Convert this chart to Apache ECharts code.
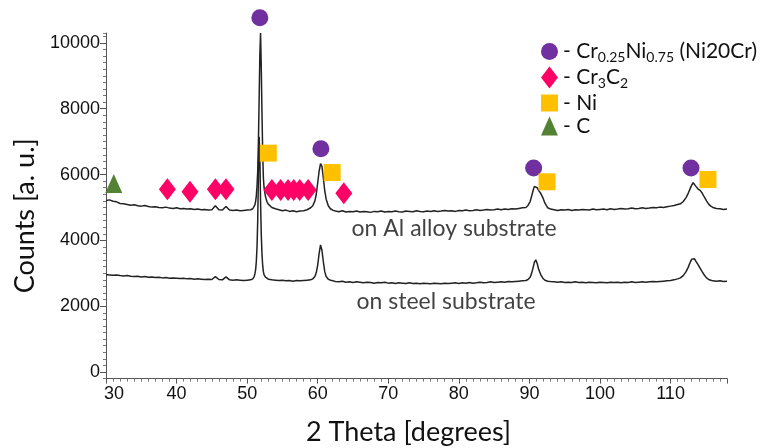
<!DOCTYPE html>
<html>
<head>
<meta charset="utf-8">
<script src="https://cdn.jsdelivr.net/npm/echarts@6/dist/echarts.min.js"></script>
<style>
  html, body { margin: 0; padding: 0; background: #ffffff; }
  #chart { width: 760px; height: 448px; }
</style>
</head>
<body>
<div id="chart"></div>
<script>
// XRD scan of the coating deposited on the Al alloy substrate: [2θ, counts]
const alAlloyScan = [
  [30,5210],[30.5,5230],[31,5190],[31.5,5170],[32,5120],[32.5,5110],[33,5090],[33.5,5070],
  [34,5080],[34.5,5050],[35,5040],[35.5,5060],[36,5030],[36.5,5010],[37,5020],[37.5,5000],
  [38,4990],[38.5,5010],[39,4980],[39.5,4970],[40,4990],[40.5,4960],[41,4970],[41.5,4950],
  [42,4960],[42.5,4940],[43,4950],[43.5,4930],[44,4940],[44.5,4920],[45,4930],[45.5,5050],
  [46,4930],[46.5,4920],[47,5030],[47.5,4920],[48,4910],[48.5,4920],[49,4900],[49.5,4910],
  [50,4920],[50.5,4930],[50.8,4960],[51,5020],[51.1,5080],[51.2,5180],[51.3,5350],[51.4,5650],
  [51.5,6100],[51.6,7000],[51.7,8300],[51.8,9600],[51.9,10300],[52,9300],[52.1,7900],[52.2,6700],
  [52.3,5900],[52.4,5600],[52.6,5330],[52.8,5180],[53,5100],[53.5,5000],
  [54,4960],[54.5,4930],[55,4900],[55.5,4920],[56,4880],[56.5,4900],[57,4870],[57.5,4890],
  [58,4900],[58.5,4930],[59,4990],
  [59.3,5050],[59.6,5200],[59.8,5400],[60,5750],[60.2,6100],[60.4,6330],[60.6,6250],[60.8,5900],
  [61,5500],[61.2,5250],[61.5,5050],[61.8,4960],[62.2,4910],
  [62.5,4890],[63,4870],[63.5,4900],[64,4860],[64.5,4880],[65,4870],[65.5,4890],[66,4860],
  [66.5,4880],[67,4870],[67.5,4850],[68,4880],[68.5,4870],[69,4890],[69.5,4860],[70,4880],
  [70.5,4870],[71,4890],[71.5,4870],[72,4860],[72.5,4890],[73,4880],[73.5,4870],[74,4900],
  [74.5,4880],[75,4870],[75.5,4890],[76,4880],[76.5,4900],[77,4880],[77.5,4890],[78,4910],
  [78.5,4890],[79,4900],[79.5,4880],[80,4910],[80.5,4900],[81,4920],[81.5,4900],[82,4910],
  [82.5,4930],[83,4910],[83.5,4920],[84,4940],[84.5,4920],[85,4930],[85.5,4950],[86,4930],
  [86.5,4950],[87,4940],[87.5,4960],[88,4950],[88.5,4970],[89,4990],
  [89.5,5000],[89.8,5060],[90.1,5180],[90.3,5330],[90.5,5500],[90.7,5640],[90.9,5690],[91.1,5600],
  [91.3,5520],[91.6,5430],[91.9,5300],[92.2,5130],[92.6,4990],[93,4950],
  [93.5,4930],[94,4910],[94.5,4930],[95,4920],[95.5,4940],[96,4910],[96.5,4930],[97,4920],
  [97.5,4940],[98,4930],[98.5,4920],[99,4950],[99.5,4930],[100,4940],[100.5,4950],[101,4930],
  [101.5,4960],[102,4940],[102.5,4950],[103,4970],[103.5,4950],[104,4960],[104.5,4980],[105,4960],
  [105.5,4970],[106,4990],[106.5,4970],[107,4980],[107.5,5000],[108,4990],[108.5,5010],[109,5000],
  [109.5,5020],[110,5040],[110.5,5060],[111,5090],
  [111.4,5110],[111.8,5180],[112.2,5300],[112.5,5430],[112.8,5580],[113,5680],[113.2,5750],[113.4,5720],
  [113.6,5640],[113.9,5560],[114.2,5520],[114.5,5430],[114.8,5310],[115.1,5200],[115.4,5100],[115.7,5040],
  [116,5000],[116.5,4970],[117,4960],[117.5,4940],[118,4950]
];

// XRD scan of the coating deposited on the steel substrate: [2θ, counts]
const steelScan = [
  [30,2960],[30.5,2950],[31,2940],[31.5,2950],[32,2930],[32.5,2920],[33,2930],[33.5,2910],
  [34,2900],[34.5,2910],[35,2890],[35.5,2900],[36,2880],[36.5,2890],[37,2870],[37.5,2880],
  [38,2860],[38.5,2870],[39,2850],[39.5,2860],[40,2850],[40.5,2840],[41,2850],[41.5,2830],
  [42,2840],[42.5,2820],[43,2830],[43.5,2820],[44,2810],[44.5,2820],[45,2810],[45.5,2900],
  [46,2810],[46.5,2800],[47,2890],[47.5,2800],[48,2790],[48.5,2800],[49,2790],[49.5,2780],
  [50,2790],[50.5,2800],[50.8,2830],[51,2900],[51.1,2980],[51.2,3100],[51.3,3350],[51.4,3800],
  [51.5,4600],[51.6,6000],[51.7,7150],[51.8,6600],[51.9,5200],[52,4200],[52.1,3600],[52.2,3250],
  [52.3,3050],[52.4,2950],[52.6,2880],[52.8,2850],[53,2820],[53.5,2800],
  [54,2790],[54.5,2780],[55,2790],[55.5,2770],[56,2780],[56.5,2760],[57,2780],[57.5,2770],
  [58,2780],[58.5,2790],[59,2800],
  [59.3,2830],[59.6,2900],[59.8,3020],[60,3250],[60.2,3600],[60.4,3860],[60.6,3700],[60.8,3350],
  [61,3050],[61.2,2900],[61.5,2820],[61.8,2790],[62.2,2770],
  [62.5,2750],[63,2740],[63.5,2760],[64,2730],[64.5,2740],[65,2720],[65.5,2740],[66,2730],
  [66.5,2710],[67,2730],[67.5,2720],[68,2700],[68.5,2720],[69,2710],[69.5,2730],[70,2700],
  [70.5,2710],[71,2690],[71.5,2710],[72,2700],[72.5,2690],[73,2710],[73.5,2690],[74,2700],
  [74.5,2680],[75,2700],[75.5,2690],[76,2680],[76.5,2700],[77,2690],[77.5,2680],[78,2700],
  [78.5,2690],[79,2700],[79.5,2710],[80,2690],[80.5,2710],[81,2700],[81.5,2720],[82,2700],
  [82.5,2710],[83,2730],[83.5,2710],[84,2720],[84.5,2740],[85,2720],[85.5,2730],[86,2740],
  [86.5,2730],[87,2750],[87.5,2740],[88,2750],[88.5,2760],[89,2770],
  [89.5,2780],[89.8,2810],[90.1,2880],[90.3,2990],[90.5,3150],[90.7,3330],[90.9,3410],[91.1,3300],
  [91.3,3130],[91.6,2960],[91.9,2850],[92.2,2790],[92.6,2760],[93,2750],
  [93.5,2740],[94,2730],[94.5,2740],[95,2720],[95.5,2730],[96,2720],[96.5,2740],[97,2720],
  [97.5,2730],[98,2710],[98.5,2730],[99,2720],[99.5,2710],[100,2730],[100.5,2720],[101,2710],
  [101.5,2730],[102,2720],[102.5,2730],[103,2710],[103.5,2730],[104,2720],[104.5,2740],[105,2720],
  [105.5,2730],[106,2740],[106.5,2730],[107,2740],[107.5,2750],[108,2740],[108.5,2750],[109,2760],
  [109.5,2770],[110,2780],[110.5,2800],[111,2830],
  [111.4,2860],[111.8,2930],[112.2,3050],[112.5,3180],[112.8,3340],[113,3430],[113.2,3470],[113.4,3440],
  [113.6,3360],[113.9,3260],[114.2,3150],[114.5,3040],[114.8,2940],[115.1,2860],[115.4,2810],[115.7,2790],
  [116,2770],[116.5,2760],[117,2770],[117.5,2750],[118,2760]
];

// Phase identification marks: [2θ, height of the mark]
const crNiPeaks  = [[51.8,10760],[60.45,6780],[90.6,6200],[112.9,6200]];
const cr3c2Peaks = [[38.7,5550],[41.9,5480],[45.5,5550],[47.0,5550],[53.5,5530],[54.75,5530],
                    [55.8,5530],[56.6,5530],[57.45,5530],[58.65,5530],[63.7,5430]];
const niPeaks    = [[53.0,6650],[62.05,6060],[92.5,5780],[115.3,5850]];
const carbonPeaks = [[31.1,5730]];

// Curve captions: [2θ, counts, text]
const curveCaptions = [
  [64.8,4346,'on Al alloy substrate'],
  [65.5,2137,'on steel substrate']
];

// Axis tick values
const countTicks = [0,2000,4000,6000,8000,10000];

const phaseNames = ['Cr0.25Ni0.75 (Ni20Cr)','Cr3C2','Ni','C'];
const phaseLegendText = {
  'Cr0.25Ni0.75 (Ni20Cr)': '{m|- Cr}{s|0.25}{m|Ni}{s|0.75}{m| (Ni20Cr)}',
  'Cr3C2': '{m|- Cr}{s|3}{m|C}{s|2}',
  'Ni': '{m|- Ni}',
  'C': '{m|- C}'
};

const TEXT_FONT = 'Lato, "Open Sans", sans-serif';
const NUM_FONT = '"Liberation Sans", Arial, sans-serif';
const AXIS_COLOR = '#555555';

const chart = echarts.init(document.getElementById('chart'), null, { renderer: 'canvas' });

function phaseSeries(name, data, symbol, size, color) {
  return {
    name: name, type: 'scatter', data: data, symbol: symbol, symbolSize: size,
    itemStyle: { color: color, opacity: 1 }, clip: false, z: 5,
    emphasis: { disabled: true }, silent: true
  };
}

function scanSeries(name, data) {
  return {
    name: name, type: 'line', data: data, showSymbol: false, symbol: 'none',
    lineStyle: { color: '#222222', width: 1.5 }, clip: false, z: 3,
    emphasis: { disabled: true }, silent: true
  };
}

chart.setOption({
  animation: false,
  backgroundColor: '#ffffff',
  grid: { left: 106, right: 33, top: 33, bottom: 69.4, containLabel: false, outerBoundsMode: 'none' },
  legend: {
    data: [
      { name: phaseNames[0], icon: 'circle' },
      { name: phaseNames[1], icon: 'path://M8.5,0L17,11L8.5,22L0,11Z' },
      { name: phaseNames[2], icon: 'path://M0,0L17,0L17,17L0,17Z' },
      { name: phaseNames[3], icon: 'path://M8.5,0L17,19L0,19Z' }
    ],
    orient: 'vertical', left: 536, top: 36,
    itemWidth: 17, itemHeight: 22, itemGap: 2,
    selectedMode: false,
    formatter: name => phaseLegendText[name],
    textStyle: {
      color: '#111111',
      rich: {
        m: { fontFamily: TEXT_FONT, fontSize: 21, lineHeight: 26, color: '#111111' },
        s: { fontFamily: TEXT_FONT, fontSize: 14, lineHeight: 14, verticalAlign: 'bottom', color: '#111111' }
      }
    }
  },
  xAxis: {
    type: 'value', min: 30, max: 118, interval: 10,
    axisLine: { onZero: false, lineStyle: { color: AXIS_COLOR, width: 1 } },
    axisTick: { length: 5, lineStyle: { color: AXIS_COLOR } },
    minorTick: { show: true, splitNumber: 10, length: 3, lineStyle: { color: '#777777' } },
    splitLine: { show: false },
    axisLabel: {
      showMaxLabel: false, color: '#111111', fontFamily: NUM_FONT, fontSize: 18, margin: 6,
      // the first label sits just clear of the vertical axis
      formatter: v => (v === 30 ? '{first|' + v + '}' : String(v)),
      rich: { first: { fontFamily: NUM_FONT, fontSize: 18, color: '#111111', padding: [0, 0, 0, 16] } }
    },
    name: '2 Theta [degrees]', nameLocation: 'middle', nameGap: 40,
    nameTextStyle: { fontFamily: TEXT_FONT, fontSize: 27, color: '#111111', padding: [0, 16, 0, 0] }
  },
  yAxis: [
    {
      type: 'value', min: -200, max: 10300, interval: 200,
      axisLine: { show: true, lineStyle: { color: AXIS_COLOR, width: 1 } },
      axisTick: { length: 3, lineStyle: { color: '#777777' } },
      splitLine: { show: false },
      axisLabel: {
        color: '#111111', fontFamily: NUM_FONT, fontSize: 18, margin: 6,
        formatter: v => (countTicks.indexOf(v) >= 0 ? String(v) : '')
      },
      name: 'Counts [a. u.]', nameLocation: 'middle', nameGap: 62, nameRotate: 90,
      nameTextStyle: { fontFamily: TEXT_FONT, fontSize: 27, color: '#111111', padding: [0, 20, 0, 0] }
    },
    {
      type: 'value', min: -200, max: 10300, position: 'left',
      axisLine: { show: false },
      axisTick: { show: true, length: 6, lineStyle: { color: AXIS_COLOR }, customValues: countTicks },
      axisLabel: { show: false },
      splitLine: { show: false }
    }
  ],
  series: [
    scanSeries('Al alloy substrate', alAlloyScan),
    scanSeries('steel substrate', steelScan),
    phaseSeries(phaseNames[0], crNiPeaks, 'circle', 17, '#7030A0'),
    phaseSeries(phaseNames[1], cr3c2Peaks, 'diamond', [17, 22], '#FF0066'),
    phaseSeries(phaseNames[2], niPeaks, 'rect', 17, '#FFC000'),
    phaseSeries(phaseNames[3], carbonPeaks, 'triangle', [17, 19], '#548235'),
    {
      name: 'captions', type: 'scatter', data: curveCaptions, symbolSize: 0, silent: true,
      label: {
        show: true, position: 'right', distance: 0,
        formatter: p => p.value[2],
        fontFamily: TEXT_FONT, fontSize: 23, color: '#111111'
      }
    }
  ]
});
</script>
</body>
</html>
